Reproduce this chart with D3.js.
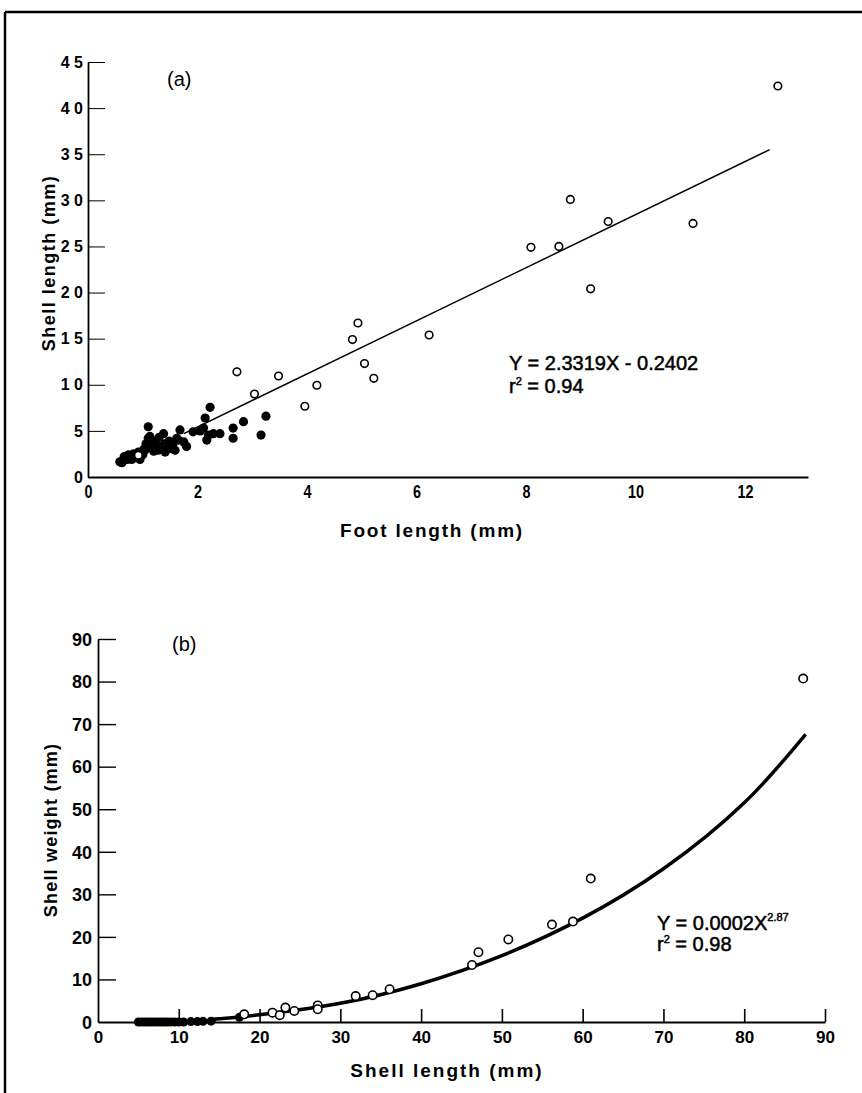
<!DOCTYPE html>
<html>
<head>
<meta charset="utf-8">
<script src="https://cdn.jsdelivr.net/npm/d3@7"></script>
<style>
  body { margin: 0; background: #fff; }
  svg { display: block; }
  .tick text { font-family: "Liberation Sans", Arial, sans-serif; font-weight: bold; fill: #000; }
  .lab { font-family: "Liberation Sans", Arial, sans-serif; font-weight: bold; fill: #000; }
  .eq { font-family: "Liberation Sans", Arial, sans-serif; fill: #000; stroke: #000; stroke-width: 0.5; }
</style>
</head>
<body>
<svg width="862" height="1093"></svg>
<script>
// panel (a): foot length vs shell length
var aTicksY = [0, 5, 10, 15, 20, 25, 30, 35, 40, 45];
var aTicksX = [0, 2, 4, 6, 8, 10, 12];
var aFilled = [[0.58,1.65],[0.62,1.55],[0.66,2.2],[0.72,1.9],[0.74,2.4],[0.80,1.9],[0.83,2.5],[0.88,2.1],
  [0.92,2.7],[0.95,1.9],[1.00,2.4],[1.02,3.0],[1.04,2.9],[1.06,3.6],[1.10,5.45],[1.10,4.2],[1.13,4.4],
  [1.15,3.3],[1.16,3.8],[1.20,2.8],[1.22,3.8],[1.25,3.1],[1.28,2.9],[1.30,4.3],[1.32,3.3],[1.38,4.7],
  [1.40,3.6],[1.41,2.7],[1.48,3.9],[1.50,3.1],[1.55,3.5],[1.59,2.9],[1.62,4.2],[1.65,4.0],[1.68,5.1],
  [1.75,3.8],[1.80,3.3],[1.92,4.9],[2.05,5.0],[2.11,5.3],[2.14,6.4],[2.23,7.55],[2.17,4.0],[2.20,4.55],
  [2.29,4.7],[2.41,4.7],[2.65,5.3],[2.65,4.2],[2.84,6.0],[3.16,4.55],[3.25,6.6]];
var aOpen = [[0.92,2.35],[2.72,11.4],[3.04,9.0],[3.48,10.95],[3.96,7.67],[4.18,9.95],[4.83,14.9],[4.93,16.7],
  [5.05,12.3],[5.22,10.7],[6.23,15.4],[8.09,24.9],[8.60,25.0],[8.81,30.1],[9.18,20.4],[9.50,27.7],
  [11.05,27.5],[12.6,42.4]];
var aLine = [[1.75,4.7],[12.45,35.5]];

// panel (b): shell length vs shell weight
var bTicksY = [0, 10, 20, 30, 40, 50, 60, 70, 80, 90];
var bTicksX = [0, 10, 20, 30, 40, 50, 60, 70, 80, 90];
var bFilled = [[5,0],[5.4,0],[5.8,0],[6.2,0],[6.6,0],[7,0],[7.4,0],[7.8,0],[8.2,0],[8.6,0],[9,0],
  [9.5,0],[10,0],[10.6,0],[11.5,0.1],[12.3,0.1],[13,0.15],[14,0.2],[17.5,1.1]];
var bOpen = [[18.1,1.8],[21.6,2.2],[22.5,1.6],[23.2,3.4],[24.3,2.6],[27.2,3.9],[27.2,3.0],[31.9,6.1],
  [34.0,6.3],[36.1,7.7],[46.3,13.4],[47.1,16.4],[50.8,19.4],[56.2,22.9],[58.8,23.6],[61.0,33.7],[87.3,80.7]];
var bCurve = [[14,0.6],[20,1.7],[30,4.4],[40,9.0],[50,15.6],[60,24.4],[70,36],[80,51.5],[87.6,67.6]];

var svg = d3.select("svg");

// frame
svg.append("line").attr("x1", 5).attr("x2", 862).attr("y1", 12).attr("y2", 12)
  .attr("stroke", "#000").attr("stroke-width", 2.5);
svg.append("line").attr("x1", 5).attr("x2", 5).attr("y1", 12).attr("y2", 1093)
  .attr("stroke", "#000").attr("stroke-width", 2.5);

function spaced(d) { return String(d).split("").join(" "); }

// ---------- panel (a)
var xa = d3.scaleLinear().domain([0, 13.15]).range([88, 808]);
var ya = d3.scaleLinear().domain([0, 45]).range([477, 62]);

var gya = svg.append("g").attr("transform", "translate(" + xa(0) + ",0)")
  .call(d3.axisLeft(ya).tickValues(aTicksY).tickFormat(spaced).tickSizeInner(-17).tickSizeOuter(0).tickPadding(5));
gya.selectAll("text").style("font-size", "16px");

var gxa = svg.append("g").attr("transform", "translate(0," + ya(0) + ")")
  .call(d3.axisBottom(xa).tickValues(aTicksX).tickSize(0).tickPadding(8));
// narrow digits like the original
gxa.selectAll(".tick text").style("font-size", "18px").attr("transform", "scale(0.8,1)");
svg.selectAll(".domain").attr("stroke-width", 1.8);

svg.append("line")
  .attr("x1", xa(aLine[0][0])).attr("y1", ya(aLine[0][1]))
  .attr("x2", xa(aLine[1][0])).attr("y2", ya(aLine[1][1]))
  .attr("stroke", "#000").attr("stroke-width", 1.5);

svg.append("g").selectAll("circle").data(aFilled).enter().append("circle")
  .attr("cx", function(d) { return xa(d[0]); })
  .attr("cy", function(d) { return ya(d[1]); })
  .attr("r", 4.6).attr("fill", "#000");

svg.append("g").selectAll("circle").data(aOpen).enter().append("circle")
  .attr("cx", function(d) { return xa(d[0]); })
  .attr("cy", function(d) { return ya(d[1]); })
  .attr("r", 3.8).attr("fill", "#fff").attr("stroke", "#000").attr("stroke-width", 1.6);

svg.append("text").attr("class", "eq").attr("x", 167).attr("y", 86)
  .style("font-size", "20px").style("stroke-width", 0).text("(a)");
svg.append("text").attr("class", "lab").attr("x", 432).attr("y", 537).attr("text-anchor", "middle")
  .style("font-size", "19px").style("letter-spacing", "1.8px").text("Foot length (mm)");
svg.append("text").attr("class", "lab").attr("text-anchor", "middle")
  .attr("transform", "translate(55,263) rotate(-90)")
  .style("font-size", "18px").style("letter-spacing", "1.5px").text("Shell length (mm)");
svg.append("text").attr("class", "eq").attr("x", 509).attr("y", 370)
  .style("font-size", "20px").text("Y = 2.3319X - 0.2402");
var ra = svg.append("text").attr("class", "eq").attr("x", 509).attr("y", 393).style("font-size", "20px");
ra.append("tspan").text("r");
ra.append("tspan").attr("dy", -8).style("font-size", "11px").text("2");
ra.append("tspan").attr("dy", 8).text(" = 0.94");

// ---------- panel (b)
var xb = d3.scaleLinear().domain([0, 90]).range([98, 825]);
var yb = d3.scaleLinear().domain([0, 90]).range([1022, 639]);

var gyb = svg.append("g").attr("transform", "translate(" + xb(0) + ",0)")
  .call(d3.axisLeft(yb).tickValues(bTicksY).tickSizeInner(-18).tickSizeOuter(0).tickPadding(6));
gyb.selectAll("text").style("font-size", "18px").attr("dy", "0.35em");

var gxb = svg.append("g").attr("transform", "translate(0," + yb(0) + ")")
  .call(d3.axisBottom(xb).tickValues(bTicksX).tickSizeInner(-13).tickSizeOuter(0).tickPadding(9));
gxb.selectAll("text").style("font-size", "17px");
gxb.selectAll(".tick").filter(function(d) { return d === 0; }).select("line").remove();
gyb.selectAll(".tick").filter(function(d) { return d === 0; }).select("line").remove();
gxb.select(".domain").attr("stroke-width", 2.2);
gyb.select(".domain").attr("stroke-width", 1.8);
gxb.selectAll(".tick line").attr("stroke-width", 1.6);
gyb.selectAll(".tick line").attr("stroke-width", 1.4);

svg.append("path").datum(bCurve)
  .attr("d", d3.line().x(function(d) { return xb(d[0]); }).y(function(d) { return yb(d[1]); }).curve(d3.curveNatural))
  .attr("fill", "none").attr("stroke", "#000").attr("stroke-width", 3.5);

svg.append("g").selectAll("circle").data(bFilled).enter().append("circle")
  .attr("cx", function(d) { return xb(d[0]); })
  .attr("cy", function(d) { return yb(d[1]); })
  .attr("r", 4.5).attr("fill", "#000");

svg.append("g").selectAll("circle").data(bOpen).enter().append("circle")
  .attr("cx", function(d) { return xb(d[0]); })
  .attr("cy", function(d) { return yb(d[1]); })
  .attr("r", 4.2).attr("fill", "#fff").attr("stroke", "#000").attr("stroke-width", 1.6);

svg.append("text").attr("class", "eq").attr("x", 172).attr("y", 651)
  .style("font-size", "20px").style("stroke-width", 0).text("(b)");
svg.append("text").attr("class", "lab").attr("x", 447).attr("y", 1077).attr("text-anchor", "middle")
  .style("font-size", "19px").style("letter-spacing", "2px").text("Shell length (mm)");
svg.append("text").attr("class", "lab").attr("text-anchor", "middle")
  .attr("transform", "translate(57,830) rotate(-90)")
  .style("font-size", "18px").style("letter-spacing", "1.2px").text("Shell weight (mm)");
var eb = svg.append("text").attr("class", "eq").attr("x", 657).attr("y", 930).style("font-size", "20px");
eb.append("tspan").text("Y = 0.0002X");
eb.append("tspan").attr("dy", -9).style("font-size", "11px").text("2.87");
var rb = svg.append("text").attr("class", "eq").attr("x", 657).attr("y", 951).style("font-size", "20px");
rb.append("tspan").text("r");
rb.append("tspan").attr("dy", -8).style("font-size", "11px").text("2");
rb.append("tspan").attr("dy", 8).text(" = 0.98");
</script>
</body>
</html>
